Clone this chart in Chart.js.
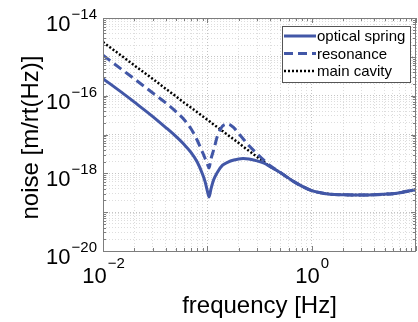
<!DOCTYPE html>
<html>
<head>
<meta charset="utf-8">
<script src="https://cdn.jsdelivr.net/npm/chart.js@4.4.0/dist/chart.umd.min.js"></script>
<style>
  html, body { margin: 0; padding: 0; background: #fff; }
</style>
</head>
<body>
<canvas id="chart" width="418" height="322"></canvas>
<script>
/* noise spectrum: optical spring / resonance / main cavity */

// ── Data ────────────────────────────────────────────────────────────────

const freq = [0.01, 0.015, 0.02, 0.03, 0.04, 0.05, 0.06, 0.07, 0.08, 0.09,
  0.095, 0.1, 0.104, 0.108, 0.115, 0.125, 0.14, 0.158, 0.18, 0.2,
  0.22, 0.25, 0.3, 0.35, 0.4, 0.5, 0.7, 1, 1.5, 2,
  3, 4, 5, 6, 7, 8, 10];

const mainCavity = [2.4e-15, 1.07e-15, 6.0e-16, 2.7e-16, 1.5e-16, 9.6e-17, 6.6e-17, 4.9e-17, 3.75e-17, 2.95e-17,
  2.65e-17, 2.4e-17, 2.22e-17, 2.05e-17, 1.8e-17, 1.54e-17, 1.23e-17, 9.6e-18, 7.4e-18, 6.0e-18,
  4.9e-18, 3.8e-18, 2.65e-18, 1.95e-18, 1.5e-18, 1.05e-18, 5.75e-19, 3.6e-19, 2.9e-19, 2.8e-19,
  2.75e-19, 2.8e-19, 2.9e-19, 3.0e-19, 3.15e-19, 3.4e-19, 3.8e-19];

const opticalSpring = [2.75e-16, 1.23e-16, 6.8e-17, 2.9e-17, 1.51e-17, 8.9e-18, 5.5e-18, 3.4e-18, 1.95e-18, 9.5e-19,
  6.2e-19, 3.55e-19, 2.45e-19, 3.8e-19, 6.8e-19, 1.07e-18, 1.62e-18, 1.95e-18, 2.2e-18, 2.35e-18,
  2.4e-18, 2.35e-18, 2.1e-18, 1.82e-18, 1.48e-18, 1.05e-18, 5.75e-19, 3.6e-19, 2.9e-19, 2.8e-19,
  2.75e-19, 2.8e-19, 2.9e-19, 3.0e-19, 3.15e-19, 3.4e-19, 3.8e-19];

const resonance = [1.1e-15, 4.8e-16, 2.7e-16, 1.17e-16, 6.5e-17, 3.9e-17, 2.4e-17, 1.38e-17, 7.1e-18, 3.45e-18,
  2.45e-18, 1.74e-18, 1.38e-18, 2.25e-18, 4.0e-18, 9.1e-18, 1.66e-17, 1.86e-17, 1.48e-17, 1.05e-17,
  7.8e-18, 5.2e-18, 3.2e-18, 2.15e-18, 1.58e-18, 1.05e-18, 5.75e-19, 3.6e-19, 2.9e-19, 2.8e-19,
  2.75e-19, 2.8e-19, 2.9e-19, 3.0e-19, 3.15e-19, 3.4e-19, 3.8e-19];

const xTickExps = [-2, 0];
const yTickExps = [-20, -18, -16, -14];

const labels = ["optical spring", "resonance", "main cavity"];
const BLUE = "#4257a7";
const FONT = "'Liberation Sans', Arial, sans-serif";

// ── Helpers ─────────────────────────────────────────────────────────────

function decadeTicks(lo, hi) {
  const out = [];
  for (let e = lo; e < hi; e++) {
    for (let m = 1; m < 10; m++) out.push({ value: m * Math.pow(10, e) });
  }
  out.push({ value: Math.pow(10, hi) });
  return out;
}

function isMajor(v) {
  const l = Math.log10(v);
  return Math.abs(l - Math.round(l)) < 1e-6;
}

const toPoints = (ys) => freq.map((f, i) => ({ x: f, y: ys[i] }));

// ── Extra drawing: box, inward ticks, labels, legend ────────────────────

const decorPlugin = {
  id: "decor",
  afterDraw(chart) {
    const { ctx, chartArea: a, scales } = chart;
    const xs = scales.x, ys = scales.y;
    ctx.save();

    // inward tick marks on all four sides
    ctx.strokeStyle = "#7d7d7d";
    ctx.lineWidth = 1;
    ctx.beginPath();
    xs.ticks.forEach((t) => {
      const px = Math.round(xs.getPixelForValue(t.value)) + 0.5;
      const len = isMajor(t.value) ? 5 : 3;
      ctx.moveTo(px, a.bottom); ctx.lineTo(px, a.bottom - len);
      ctx.moveTo(px, a.top); ctx.lineTo(px, a.top + len);
    });
    ys.ticks.forEach((t) => {
      const py = Math.round(ys.getPixelForValue(t.value)) + 0.5;
      const len = isMajor(t.value) ? 5 : 3;
      ctx.moveTo(a.left, py); ctx.lineTo(a.left + len, py);
      ctx.moveTo(a.right, py); ctx.lineTo(a.right - len, py);
    });
    ctx.stroke();

    // axes box
    ctx.strokeRect(Math.round(a.left) + 0.5, Math.round(a.top) + 0.5,
      Math.round(a.right - a.left) - 1, Math.round(a.bottom - a.top));

    // tick labels: 10^n
    ctx.fillStyle = "#000";
    ctx.textBaseline = "alphabetic";
    const big = "22px " + FONT, small = "15px " + FONT;
    xTickExps.forEach((e) => {
      const px = xs.getPixelForValue(Math.pow(10, e));
      const exp = String(e).replace("-", "\u2212");
      ctx.font = big; const w1 = ctx.measureText("10").width;
      ctx.font = small; const w2 = ctx.measureText(exp).width;
      const x0 = px - (w1 + w2) / 2;
      ctx.font = big; ctx.textAlign = "left"; ctx.fillText("10", x0, 283);
      ctx.font = small; ctx.fillText(exp, x0 + w1 + 1, 268);
    });
    yTickExps.forEach((e) => {
      const py = ys.getPixelForValue(Math.pow(10, e));
      const exp = String(e).replace("-", "\u2212");
      ctx.font = small; const w2 = ctx.measureText(exp).width;
      ctx.textAlign = "right";
      ctx.fillText(exp, 97, py + 1);
      ctx.font = big;
      ctx.fillText("10", 97 - w2 - 1, py + 13);
    });

    // axis titles
    ctx.font = "24px " + FONT;
    ctx.textAlign = "center";
    ctx.fillText("frequency [Hz]", (a.left + a.right) / 2, 313);
    ctx.save();
    ctx.translate(38, (a.top + a.bottom) / 2 + 3);
    ctx.rotate(-Math.PI / 2);
    ctx.fillText("noise [m/rt(Hz)]", 0, 0);
    ctx.restore();

    // legend
    const lx = 282, ly = 26, lw = 128, lh = 56;
    ctx.fillStyle = "#fff";
    ctx.fillRect(lx, ly, lw, lh);
    ctx.strokeStyle = "#555";
    ctx.lineWidth = 1;
    ctx.strokeRect(lx + 0.5, ly + 0.5, lw, lh);
    chart.data.datasets.forEach((ds, i) => {
      const ry = ly + 10 + i * 17.5;
      ctx.strokeStyle = ds.borderColor;
      ctx.lineWidth = ds.borderWidth;
      ctx.setLineDash(ds.borderDash || []);
      ctx.beginPath();
      ctx.moveTo(lx + 2, ry); ctx.lineTo(lx + 34, ry);
      ctx.stroke();
      ctx.setLineDash([]);
      ctx.fillStyle = "#000";
      ctx.font = "15px " + FONT;
      ctx.textAlign = "left";
      ctx.fillText(ds.label, lx + 35, ry + 5);
    });

    ctx.restore();
  },
};

// ── Chart ───────────────────────────────────────────────────────────────

const gridCfg = {
  drawTicks: false,
  color: (c) => (c.tick && isMajor(c.tick.value) ? "#c4c4c4" : "#dddddd"),
  lineWidth: 1,
};

new Chart(document.getElementById("chart"), {
  type: "line",
  data: {
    datasets: [
      {
        label: labels[0],
        data: toPoints(opticalSpring),
        borderColor: BLUE,
        borderWidth: 3,
      },
      {
        label: labels[1],
        data: toPoints(resonance),
        borderColor: BLUE,
        borderWidth: 3,
        borderDash: [9, 5],
      },
      {
        label: labels[2],
        data: toPoints(mainCavity),
        borderColor: "#000",
        borderWidth: 2.5,
        borderDash: [2, 2],
      },
    ],
  },
  options: {
    responsive: false,
    animation: false,
    devicePixelRatio: 1,
    layout: { padding: { left: 0, top: 18, right: 2, bottom: 0 } },
    elements: { point: { radius: 0 }, line: { cubicInterpolationMode: "monotone", fill: false } },
    plugins: { legend: { display: false }, tooltip: { enabled: false } },
    scales: {
      x: {
        type: "logarithmic",
        min: 0.01,
        max: 10,
        ticks: { display: false },
        grid: gridCfg,
        border: { display: false, dash: [1, 2] },
        afterBuildTicks: (s) => { s.ticks = decadeTicks(-2, 1); },
        afterFit: (s) => { s.height = 71; },
      },
      y: {
        type: "logarithmic",
        min: 1e-20,
        max: 1e-14,
        ticks: { display: false },
        grid: gridCfg,
        border: { display: false, dash: [1, 2] },
        afterBuildTicks: (s) => { s.ticks = decadeTicks(-20, -14); },
        afterFit: (s) => { s.width = 103; },
      },
    },
  },
  plugins: [decorPlugin],
});
</script>
</body>
</html>
